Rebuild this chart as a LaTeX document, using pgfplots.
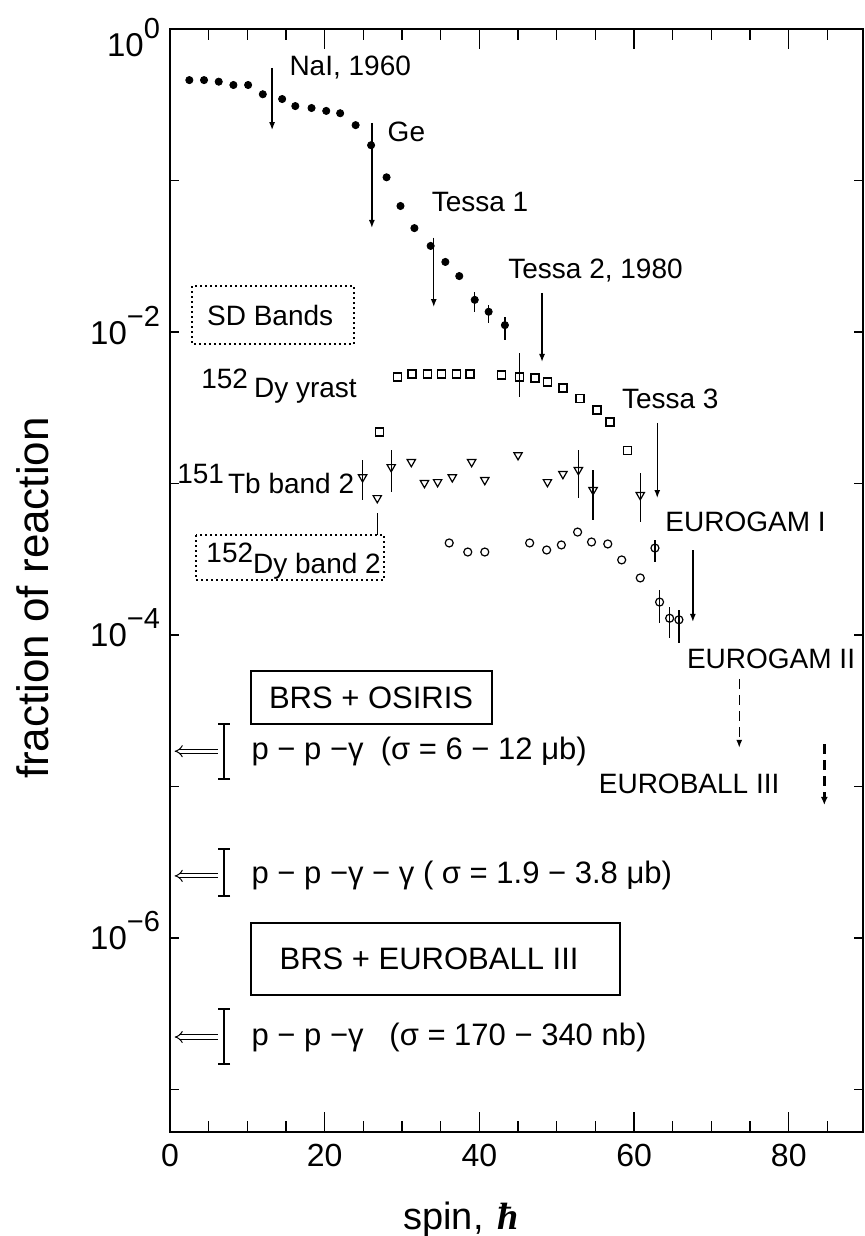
\documentclass[border=0pt]{standalone}
\usepackage{pgfplots}
\pgfplotsset{compat=1.18}
\usepackage{fontspec}
\setmainfont{Liberation Sans}
\newfontfamily\seriffont{Liberation Serif}
\usetikzlibrary{arrows.meta}
\newcommand{\fs}[1]{\fontsize{#1}{#1}\selectfont}
\newcommand{\tenpow}[1]{\fs{16.5}10\raisebox{9pt}{\fs{14.5}#1}}
\begin{document}
\begin{tikzpicture}
\begin{axis}[
  name=ax, scale only axis, width=346.5pt, height=551.5pt,
  xmin=0, xmax=89.6, ymode=log, ymin=5.24e-8, ymax=1,
  clip=false,
  axis line style={line width=0.8pt},
  every tick/.style={black, line width=0.7pt},
  tick align=inside,
  xtick={0,20,40,60,80}, xticklabels={0,20,40,60,80},
  minor xtick={5,10,15,25,30,35,45,50,55,65,70,75,85},
  major tick length=10pt, minor tick length=5.5pt,
  xticklabel style={font=\fs{16}, yshift=-2.5pt},
  ytick=\empty,
  extra y ticks={1,1e-1,1e-2,1e-3,1e-4,1e-5,1e-6,1e-7},
  extra y tick labels={\raisebox{-7.5pt}{\tenpow{0}},,\tenpow{−2},,\tenpow{−4},,\tenpow{−6},},
  extra y tick style={major tick length=4.5pt, yticklabel style={anchor=base east, yshift=-6pt, xshift=-1.5pt}},
  every axis plot/.append style={black},
]
% filled circles (gamma-ray fraction)
\addplot[only marks, mark=*, mark size=1.8pt] coordinates {
(2.5,0.46) (4.4,0.46) (6.3,0.449) (8.2,0.427) (10.1,0.427) (12.0,0.371) (14.5,0.345)
(16.2,0.31) (18.3,0.301) (20.2,0.288) (22.0,0.278) (24.0,0.232) (26.0,0.171) (28.0,0.105)
(29.8,0.0679) (31.6,0.0485) (33.7,0.037) (35.6,0.029) (37.4,0.0234)};
\addplot[only marks, mark=*, mark size=1.8pt, error bars/.cd, y dir=both, y explicit, error mark=none, error bar style={line width=0.7pt}] coordinates {
(39.4,0.0163) += (0,0.00207) -= (0,0.00275)
(41.2,0.0136) += (0,0.00147) -= (0,0.00214)
(43.3,0.0111) += (0,0.00146) -= (0,0.00224)};
% 152Dy yrast SD band (open squares)
\addplot[only marks, mark=square, mark size=2pt, mark options={line width=0.6pt}] coordinates {
(29.4,0.00505) (31.3,0.00528) (33.3,0.00528) (35.1,0.00528) (37.0,0.00528) (38.8,0.00528)
(42.9,0.0052) (47.2,0.00497) (48.8,0.00468) (50.8,0.00427) (53.0,0.00366) (55.2,0.00306)
(56.9,0.00255) (59.1,0.00166) (27.1,0.00219)};
\addplot[only marks, mark=square, mark size=2pt, mark options={line width=0.6pt}, error bars/.cd, y dir=both, y explicit, error mark=none, error bar style={line width=0.7pt}] coordinates {
(45.2,0.00505) += (0,0.00222) -= (0,0.00133)};
% 151Tb band 2 (open down triangles)
\addplot[only marks, mark=triangle, mark size=2.4pt, mark options={rotate=180, line width=0.6pt}] coordinates {
(26.8,8.02e-4) (31.2,1.387e-3) (32.9,1.008e-3) (34.6,1.023e-3) (36.5,1.10e-3) (39.0,1.387e-3)
(40.7,1.055e-3) (45.0,1.54e-3) (48.8,1.023e-3) (50.8,1.156e-3)};
\addplot[only marks, mark=triangle, mark size=2.4pt, mark options={rotate=180, line width=0.6pt}, error bars/.cd, y dir=both, y explicit, error mark=none, error bar style={line width=0.7pt}] coordinates {
(24.9,1.10e-3) += (0,3.3e-4) -= (0,3.22e-4)
(28.6,1.285e-3) += (0,3.75e-4) -= (0,4.06e-4)
(52.8,1.228e-3) += (0,4.32e-4) -= (0,4.26e-4)
(54.7,9.06e-4) += (0,3.24e-4) -= (0,3.32e-4)
(60.8,8.4e-4) += (0,3.3e-4) -= (0,2.83e-4)};
% 152Dy band 2 (open circles)
\addplot[only marks, mark=o, mark size=2pt, mark options={line width=0.6pt}] coordinates {
(36.1,4.05e-4) (38.5,3.53e-4) (40.7,3.53e-4) (46.5,4.05e-4) (48.7,3.64e-4) (50.6,3.93e-4)
(52.7,4.78e-4) (54.5,4.11e-4) (56.6,3.99e-4) (58.4,3.13e-4) (60.8,2.38e-4)};
\addplot[only marks, mark=o, mark size=2pt, mark options={line width=0.6pt}, error bars/.cd, y dir=both, y explicit, error mark=none, error bar style={line width=0.7pt}] coordinates {
(62.7,3.75e-4) += (0,4.9e-5) -= (0,7.2e-5)
(63.3,1.65e-4) += (0,3.3e-5) -= (0,4.5e-5)
(64.6,1.29e-4) += (0,2.4e-5) -= (0,3.35e-5)
(65.8,1.26e-4) += (0,2.0e-5) -= (0,3.75e-5)};
% detection limits
\addplot[line width=0.7pt, -{Latex[length=4pt,width=3pt]}] coordinates {(13.2,0.553) (13.2,0.215)};
\addplot[line width=0.7pt, -{Latex[length=4pt,width=3pt]}] coordinates {(26.1,0.24) (26.1,0.0486)};
\addplot[line width=0.7pt, -{Latex[length=4pt,width=3pt]}] coordinates {(34.1,0.042) (34.1,0.0146)};
\addplot[line width=0.7pt, -{Latex[length=4pt,width=3pt]}] coordinates {(48.1,0.0181) (48.1,0.00634)};
\addplot[line width=0.7pt, -{Latex[length=4pt,width=3pt]}] coordinates {(63.0,0.00251) (63.0,8.02e-4)};
\addplot[line width=0.7pt, -{Latex[length=4pt,width=3pt]}] coordinates {(67.6,3.64e-4) (67.6,1.22e-4)};
\addplot[line width=0.7pt, dash pattern=on 5pt off 3pt, -{Latex[length=4pt,width=3pt]}] coordinates {(73.6,5.13e-5) (73.6,1.8e-5)};
\addplot[line width=1.2pt, dash pattern=on 5pt off 3pt, -{Latex[length=4pt,width=3.5pt]}] coordinates {(84.6,1.9e-5) (84.6,7.55e-6)};
% sensitivity ranges
\addplot[draw=none, mark=none, error bars/.cd, y dir=both, y explicit, error mark=-, error mark options={rotate=90, mark size=3pt, line width=0.7pt, draw=black}, error bar style={line width=0.7pt, draw=black}] coordinates {
(7.0,1.7e-5) += (0,0.89e-5) -= (0,0.58e-5)
(7.0,2.7e-6) += (0,1.17e-6) -= (0,0.81e-6)
(7.0,2.2e-7) += (0,1.2e-7) -= (0,0.73e-7)};
\addplot[double, double distance=1.6pt, line width=0.5pt, -{Implies}] coordinates {(6.2,1.71e-5) (0.6,1.71e-5)};
\addplot[double, double distance=1.6pt, line width=0.5pt, -{Implies}] coordinates {(6.2,2.57e-6) (0.6,2.57e-6)};
\addplot[double, double distance=1.6pt, line width=0.5pt, -{Implies}] coordinates {(6.2,2.22e-7) (0.6,2.22e-7)};
% annotations
\begin{scope}[every node/.style={inner sep=0pt, font=\fs{14}}]
\node[anchor=west] at (axis cs:15.4,0.553) {NaI, 1960};
\node[anchor=west] at (axis cs:28.1,0.209) {Ge};
\node[anchor=west] at (axis cs:33.8,0.0721) {Tessa 1};
\node[anchor=west] at (axis cs:43.7,0.0253) {Tessa 2, 1980};
\node[anchor=west] at (axis cs:58.4,3.61e-3) {Tessa 3};
\node[anchor=west] at (axis cs:64.0,5.57e-4) {EUROGAM I};
\node[anchor=west] at (axis cs:66.8,6.95e-5) {EUROGAM II};
\node[anchor=west] at (axis cs:55.4,1.04e-5) {EUROBALL III};
\node at (axis cs:12.95,0.01294) {SD Bands};
\node[anchor=base west] at (axis cs:4.0,3.72e-3) {\raisebox{4.5pt}{152}\hspace{3pt}Dy yrast};
\node[anchor=base west] at (axis cs:0.9,8.65e-4) {\raisebox{5pt}{151}\hspace{2pt}Tb band 2};
\node[anchor=base west] at (axis cs:4.66,2.56e-4) {\raisebox{5.5pt}{152}Dy band 2};
\end{scope}
\draw[line width=0.8pt, dash pattern=on 1pt off 1.5pt] (axis cs:2.85,0.0201) rectangle (axis cs:23.8,8.33e-3);
\draw[line width=0.8pt, dash pattern=on 1pt off 1.5pt] (axis cs:3.37,4.57e-4) rectangle (axis cs:27.7,2.31e-4);
\draw[line width=0.7pt] (axis cs:26.8,6.38e-4) -- (axis cs:26.8,4.57e-4);
\draw[line width=0.8pt] (axis cs:10.5,5.78e-5) rectangle (axis cs:41.6,2.59e-5);
\draw[line width=0.8pt] (axis cs:10.5,1.26e-6) rectangle (axis cs:58.2,4.2e-7);
\begin{scope}[every node/.style={inner sep=0pt, font=\fs{15.5}}]
\node at (axis cs:26.0,3.87e-5) {BRS + OSIRIS};
\node at (axis cs:33.5,7.27e-7) {BRS + EUROBALL III};
\node[anchor=west] at (axis cs:10.5,1.71e-5) {p − p −γ\ \ (σ = 6 − 12 μb)};
\node[anchor=west] at (axis cs:10.5,2.57e-6) {p − p −γ − γ ( σ = 1.9 − 3.8 μb)};
\node[anchor=west] at (axis cs:10.5,2.22e-7) {p − p −γ\ \ \ (σ = 170 − 340 nb)};
\end{scope}
\end{axis}
\node[anchor=base west, inner sep=0pt, font=\fs{19}] at ([xshift=116.5pt, yshift=-48.5pt]ax.south west) {spin,\hspace{7pt}{\seriffont\bfseries\itshape ħ}};
\node[rotate=90, inner sep=0pt, font=\fs{22}] at ([xshift=-68.5pt, yshift=267pt]ax.south west) {fraction of reaction};
\pgfresetboundingbox
\path[use as bounding box] ([xshift=-85pt,yshift=-52pt]ax.south west) rectangle ([xshift=1pt,yshift=14.5pt]ax.north east);
\end{tikzpicture}
\end{document}
